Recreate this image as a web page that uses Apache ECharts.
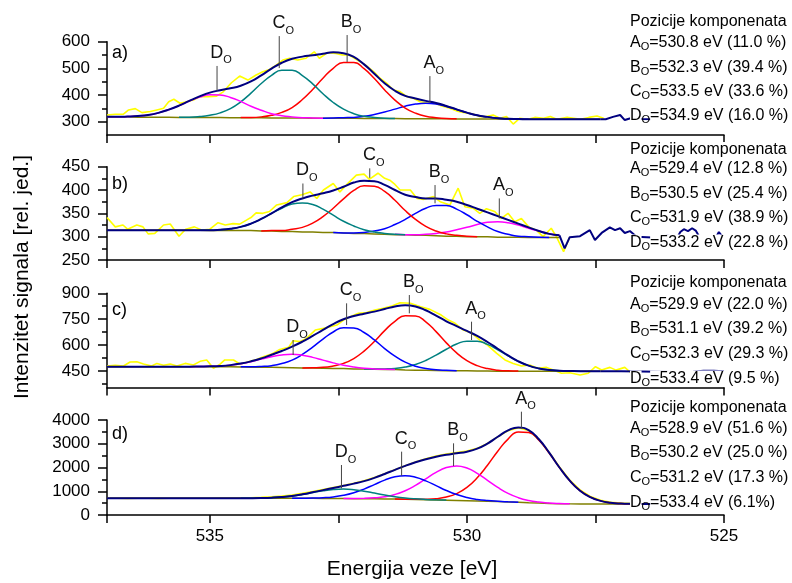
<!DOCTYPE html>
<html><head><meta charset="utf-8">
<script src="https://cdn.jsdelivr.net/npm/echarts@6/dist/echarts.min.js"></script>
<style>html,body{margin:0;padding:0;background:#fff}#c{width:792px;height:583px}</style>
</head><body><div id="c"></div>
<script>
function gap(n){ const r=[]; for(let i=0;i<n;i++) r.push(null); return r; }

// ---------- Panel a ----------
const aE = [537,536.8,536.6,536.4,536.2,536,535.8,535.6,535.4,535.2,535,534.8,534.6,534.4,534.2,534,533.8,533.6,533.4,533.2,533,532.8,532.6,532.4,532.2,532,531.8,531.6,531.4,531.2,531,530.8,530.6,530.4,530.2,530,529.8,529.6,529.4,529.2,529,528.8,528.6,528.4,528.2,528,527.8,527.6,527.4];
const aYellowE = [537.0,536.84,536.68,536.58,536.45,536.32,536.16,536.03,535.9,535.8,535.7,535.58,535.45,535.32,535.19,535.03,534.87,534.74,534.58,534.42,534.26,534.1,533.97,533.84,533.71,533.58,533.45,533.29,533.13,532.97,532.87,532.71,532.55,532.42,532.29,532.13,531.97,531.81,531.69,531.56,531.43,531.3,531.17,531.04,530.91,530.78,530.62,530.49,530.33,530.17,530.04,529.88,529.75,529.62,529.49,529.36,529.23,529.1,528.97,528.81,528.68,528.51,528.38,528.25,528.05,527.92,527.79,527.63,527.47,527.34];
const aYellowV = [325,328,328,344,349,334,338,344,350,375,384,369,375,381,394,394,396,412,446,471,456,475,487,496,512,531,538,531,538,562,538,559,556,550,550,531,512,487,463,444,419,413,394,388,375,371,369,359,350,338,334,329,319,319,325,313,319,291,313,309,316,313,319,309,316,313,309,316,321,313];
const aBg = [318,318,318,317,317,317,317,316,316,316,316,316,315,315,315,315,314,314,314,314,313,313,313,313,313,312,312,312,312,311,311,311,311,311,310,310,310,310,310,309,309,309,309,309,309,309,309,309,309];
const aEnv = [318,318,319,321,325,333,345,360,378,395,409,418,425,435,451,474,499,521,536,544,549,555,560,557,543,515,480,444,416,397,387,378,370,359,346,334,324,318,313,311,310,309,309,309,309,309,309,309,309];
const aCompA = [...gap(21),313,314,315,316,320,327,336,347,358,366,369,366,357,346,334,324,318,313,311,310,309,...gap(7)];
const aCompB = [...gap(13),316,316,318,324,335,353,383,421,463,500,522,522,499,462,419,381,351,332,320,315,312,311,...gap(14)];
const aCompC = [...gap(7),317,317,319,324,333,349,374,407,443,474,493,493,473,442,405,372,347,330,320,316,313,312,...gap(20)];
const aCompD = [318,318,319,321,325,333,345,360,377,392,401,400,391,376,358,343,330,322,318,315,314,313,...gap(27)];
const aTailE = [527.4,527.3,527.16,527.02,526.93,526.85,526.75,526.6,526.3,526.0,525.7,525.4,525.0];
const aTailV = [309,309,318,325,306,311,316,310,309,310,309,310,309];
const aLeadE = [530.72,532.33,533.65,534.86];
const aLeadLo = [374,524,501,415];
const aLeadHi = [471,625,621,509];
const aMajor = [300,400,500,600];
const aMinor = [350,450,550];
const aPos = [530.8,532.3,533.5,534.9];
const aPct = ['11.0 %','39.4 %','33.6 %','16.0 %'];

// ---------- Panel b ----------
const bE = [537,536.8,536.6,536.4,536.2,536,535.8,535.6,535.4,535.2,535,534.8,534.6,534.4,534.2,534,533.8,533.6,533.4,533.2,533,532.8,532.6,532.4,532.2,532,531.8,531.6,531.4,531.2,531,530.8,530.6,530.4,530.2,530,529.8,529.6,529.4,529.2,529,528.8,528.6,528.4,528.2];
const bYellowE = [537.0,536.84,536.69,536.6,536.42,536.3,536.2,536.07,535.9,535.77,535.6,535.47,535.3,535.15,535.0,534.84,534.7,534.55,534.42,534.28,534.2,534.1,533.97,533.84,533.7,533.5,533.37,533.21,533.05,532.92,532.79,532.6,532.47,532.3,532.15,532.0,531.9,531.73,531.6,531.5,531.4,531.3,531.1,530.97,530.84,530.65,530.52,530.33,530.17,530.04,529.88,529.75,529.62,529.46,529.33,529.2,529.07,528.94,528.8,528.65,528.52,528.36,528.26,528.12,528.0];
const bYellowV = [341,321,325,316,325,321,306,307,325,327,301,316,321,314,316,330,325,328,327,336,341,351,350,354,368,373,386,390,396,382,400,414,396,416,432,434,423,436,425,421,412,400,400,382,380,386,375,368,404,364,361,350,360,354,339,350,332,339,321,314,300,318,300,268,299];
const bBg = [314,314,314,314,314,314,314,314,314,314,313,313,313,313,313,312,312,311,311,310,310,309,309,308,307,307,306,305,304,304,303,303,302,301,301,300,300,300,299,299,299,298,298,298,298];
const bEnv = [314,314,314,314,314,314,314,314,314,314,314,315,317,321,328,338,350,363,374,382,388,393,399,407,416,420,419,411,400,390,385,382,382,379,375,368,360,352,344,336,328,320,312,306,303];
const bCompA = [...gap(28),305,304,304,305,307,310,315,320,326,331,332,330,325,318,312,306,303];
const bCompB = [...gap(22),309,308,308,309,312,317,326,337,350,361,367,367,359,347,333,321,311,305,301,300,299,298,...gap(1)];
const bCompC = [...gap(15),312,313,313,316,320,329,343,361,381,399,409,408,397,378,356,337,322,312,306,303,301,300,...gap(8)];
const bCompD = [...gap(9),314,314,315,317,321,328,338,350,361,370,372,369,359,346,333,323,315,310,307,305,304,...gap(15)];
const bTailE = [528.2,528.1,528.0,527.8,527.61,527.51,527.38,527.22,527.12,527.02,526.93,526.83,526.7,526.4,526.1,525.9,525.85,525.78,525.7,525.62,525.55,525.48,525.3,525.15,525.1,525.05,525.0];
const bTailV = [303,275,299,301,314,293,308,320,314,318,308,312,300,298,302,300,310,316,312,318,313,300,298,300,310,303,300];
const bLeadE = [529.37,530.62,531.89,533.19];
const bLeadLo = [339,371.5,426,382];
const bLeadHi = [382,410.7,446.5,414];
const bMajor = [250,300,350,400,450];
const bMinor = [275,325,375,425];
const bPos = [529.4,530.5,531.9,533.2];
const bPct = ['12.8 %','25.4 %','38.9 %','22.8 %'];

// ---------- Panel c ----------
const cE = [537,536.8,536.6,536.4,536.2,536,535.8,535.6,535.4,535.2,535,534.8,534.6,534.4,534.2,534,533.8,533.6,533.4,533.2,533,532.8,532.6,532.4,532.2,532,531.8,531.6,531.4,531.2,531,530.8,530.6,530.4,530.2,530,529.8,529.6,529.4,529.2,529,528.8,528.6,528.4,528.2,528,527.8,527.6,527.4];
const cYellowE = [537.0,536.84,536.68,536.55,536.42,536.29,536.13,536.03,535.9,535.77,535.64,535.48,535.32,535.19,535.06,534.93,534.8,534.71,534.54,534.41,534.25,534.09,533.96,533.8,533.64,533.47,533.38,533.25,533.12,532.95,532.79,532.66,532.53,532.4,532.27,532.11,531.95,531.79,531.63,531.46,531.3,531.1,530.9,530.72,530.5,530.36,530.23,530.07,529.9,529.75,529.6,529.42,529.26,529.1,528.94,528.78,528.62,528.45,528.32,528.16,528.0,527.8,527.64,527.5,527.38,527.22,527.1,526.93,526.8];
const cYellowV = [479,483,479,502,503,490,479,494,483,490,479,494,485,506,514,466,490,514,514,490,503,517,533,548,575,587,625,620,639,687,697,706,716,745,764,784,788,803,813,826,845,842,822,807,774,745,726,687,668,629,600,552,514,494,479,485,466,471,456,437,440,427,437,475,456,471,455,471,437];
const cBg = [475,475,475,475,475,475,475,475,475,475,474,474,474,473,472,472,471,470,469,468,467,466,465,464,462,461,460,459,458,456,455,454,453,452,451,451,450,450,449,449,449,449,449,449,449,449,449,449,449];
const cEnv = [475,475,475,475,475,475,475,475,475,476,477,479,484,493,506,523,544,566,591,620,653,688,722,750,769,782,794,809,824,831,824,802,771,738,710,682,653,618,579,540,506,481,465,456,452,450,449,449,449];
const cCompA = [...gap(25),462,461,462,465,473,488,511,542,576,606,623,623,604,573,538,506,481,465,456,452,450,449,...gap(2)];
const cCompB = [...gap(19),468,469,471,479,494,522,565,621,684,738,770,769,735,678,613,555,510,481,464,455,451,450,...gap(8)];
const cCompC = [...gap(13),474,474,476,481,493,513,546,588,635,676,700,699,673,630,580,536,501,478,465,457,454,452,...gap(14)];
const cCompD = [...gap(8),475,476,477,479,484,492,504,519,533,543,547,541,529,513,497,483,473,466,462,460,458,...gap(20)];
const cTailE = [527.4,527.0,526.6,526.3,526.0,525.6,525.4,525.2,525.0];
const cTailV = [449,448,447,446,444,446,452,452,448];
const cLeadE = [529.91,531.12,532.34,533.38];
const cLeadLo = [629.5,784,716,542.6];
const cLeadHi = [735.5,890,842,629.5];
const cMajor = [450,600,750,900];
const cMinor = [375,525,675,825];
const cPos = [529.9,531.1,532.3,533.4];
const cPct = ['22.0 %','39.2 %','29.3 %','9.5 %'];

// ---------- Panel d ----------
const dE = [537,536.8,536.6,536.4,536.2,536,535.8,535.6,535.4,535.2,535,534.8,534.6,534.4,534.2,534,533.8,533.6,533.4,533.2,533,532.8,532.6,532.4,532.2,532,531.8,531.6,531.4,531.2,531,530.8,530.6,530.4,530.2,530,529.8,529.6,529.4,529.2,529,528.8,528.6,528.4,528.2,528,527.8,527.6,527.4,527.2,527,526.8,526.6];
const dYellow = [703,705,702,704,703,701,704,706,703,705,708,710,712,718,726,742,765,800,845,910,990,1075,1160,1245,1335,1440,1575,1735,1905,2075,2230,2365,2478,2565,2630,2690,2805,3010,3290,3550,3675,3560,3185,2630,2020,1475,1055,780,620,540,500,485,478];
const dBg = [703,703,703,703,703,703,703,703,703,703,703,703,703,703,703,703,703,703,702,702,701,699,695,693,689,684,680,675,669,662,654,645,635,625,615,604,592,580,566,550,533,516,501,487,477,470,466,464,463,463,463,463,463];
const dEnv = [703,703,703,703,703,703,703,703,703,703,703,703,703,705,707,714,729,757,803,870,955,1048,1138,1228,1320,1427,1565,1728,1901,2069,2219,2350,2456,2537,2599,2667,2794,3007,3294,3561,3688,3569,3189,2624,2001,1447,1024,751,595,517,483,470,465];
const dCompA = [...gap(28),670,664,661,665,689,757,902,1162,1567,2098,2687,3196,3491,3474,3147,2608,1995,1445,1024,751,595,517,483,470,465];
const dCompB = [...gap(23),695,695,700,722,770,865,1023,1250,1525,1797,1997,2065,1976,1754,1460,1162,911,729,611,543,503,483,472,...gap(7)];
const dCompC = [...gap(18),703,706,712,727,760,827,936,1091,1281,1468,1606,1652,1591,1438,1236,1032,862,738,657,608,577,554,534,...gap(12)];
const dCompD = [...gap(13),705,707,714,729,757,802,866,944,1019,1073,1093,1067,1004,923,839,769,716,680,656,639,627,...gap(19)];
const dTailE = [526.6,526.3,525.0];
const dTailV = [465,463,463];
const dLeadE = [528.94,530.26,531.27,532.44];
const dLeadLo = [3649,2063,1656,1123];
const dLeadHi = [4350,3018,2667,2105];
const dMajor = [0,1000,2000,3000,4000];
const dMinor = [500,1500,2500,3500];
const dPos = [528.9,530.2,531.2,533.4];
const dPct = ['51.6 %','25.0 %','17.3 %','6.1%'];

const xTickLabels = [525,530,535];
const compLetters = ['A','B','C','D'];
const headerText = 'Pozicije komponenata';
const panelTags = ['a)','b)','c)','d)'];
const xTitle = 'Energija veze [eV]';
const yTitle = 'Intenzitet signala [rel. jed.]';

// ---------- build ----------
const FONT = '"Liberation Sans", Arial, Helvetica, sans-serif';
function pairs(xs, ys){ const out=[]; for(let i=0;i<xs.length;i++){ if(ys[i]!==null && ys[i]!==undefined) out.push([xs[i], ys[i]]); } return out; }

const panels = [
  {E:aE, yE:aYellowE, yV:aYellowV, bg:aBg, env:aEnv, comps:[aCompA,aCompB,aCompC,aCompD], tE:aTailE, tV:aTailV, lE:aLeadE, lLo:aLeadLo, lHi:aLeadHi, ymin:250, ymax:600, major:aMajor, minor:aMinor, pos:aPos, pct:aPct},
  {E:bE, yE:bYellowE, yV:bYellowV, bg:bBg, env:bEnv, comps:[bCompA,bCompB,bCompC,bCompD], tE:bTailE, tV:bTailV, lE:bLeadE, lLo:bLeadLo, lHi:bLeadHi, ymin:250, ymax:450, major:bMajor, minor:bMinor, pos:bPos, pct:bPct},
  {E:cE, yE:cYellowE, yV:cYellowV, bg:cBg, env:cEnv, comps:[cCompA,cCompB,cCompC,cCompD], tE:cTailE, tV:cTailV, lE:cLeadE, lLo:cLeadLo, lHi:cLeadHi, ymin:355, ymax:900, major:cMajor, minor:cMinor, pos:cPos, pct:cPct},
  {E:dE, yE:dE, yV:dYellow, bg:dBg, env:dEnv, comps:[dCompA,dCompB,dCompC,dCompD], tE:dTailE, tV:dTailV, lE:dLeadE, lLo:dLeadLo, lHi:dLeadHi, ymin:0, ymax:4000, major:dMajor, minor:dMinor, pos:dPos, pct:dPct}
];
const compColors = [
  ['#0000FF','#FF0000','#008080','#FF00FF'],
  ['#FF00FF','#0000FF','#FF0000','#008080'],
  ['#008080','#FF0000','#0000FF','#FF00FF'],
  ['#FF0000','#FF00FF','#0000FF','#008080']
];
const layout = [
  {top:41.7, height:93.3, tagY:53, textY:[22,42.5,67.5,91.5,116]},
  {top:166.7, height:93.3, tagY:184, textY:[150,169,194,218,242.5]},
  {top:293.3, height:94.1, tagY:310, textY:[283,305,329,354,378.5]},
  {top:420, height:95, tagY:434.5, textY:[407.5,429,453,478,503]}
];
const AX = {color:'#000', width:1.5};
const peakRich = {
  m:{fontSize:18, fontFamily:FONT, color:'#111', verticalAlign:'top'},
  s:{fontSize:11, fontFamily:FONT, color:'#111', verticalAlign:'top', padding:[11,0,0,0]}
};
const rowRich = {
  m:{fontSize:16, fontFamily:FONT, fill:'#000', verticalAlign:'top', backgroundColor:'#fff'},
  s:{fontSize:11, fontFamily:FONT, fill:'#000', verticalAlign:'top', padding:[6.5,0,0,0]}
};

const grid=[], xAxis=[], yAxis=[], series=[], graphic=[];
panels.forEach((p,k)=>{
  const L = layout[k];
  grid.push({left:107, right:68, top:L.top, height:L.height});
  xAxis.push({type:'value', gridIndex:k, min:525, max:537, inverse:true, interval:2.5,
    axisLine:{show:true, onZero:false, lineStyle:AX},
    axisTick:{show:true, inside:false, length:8, lineStyle:AX},
    axisLabel: k===3 ? {show:true, customValues:xTickLabels, fontSize:17, color:'#000', margin:13, fontFamily:FONT, formatter:v=>String(v)} : {show:false},
    splitLine:{show:false}});
  yAxis.push({type:'value', gridIndex:k, position:'left', min:p.ymin, max:p.ymax,
    axisLine:{show:true, onZero:false, lineStyle:AX},
    axisTick:{show:true, inside:false, length:9, customValues:p.major, lineStyle:AX},
    axisLabel:{show:true, customValues:p.major, fontSize:17, color:'#000', margin:17, fontFamily:FONT, formatter:v=>String(v)},
    splitLine:{show:false}});
  yAxis.push({type:'value', gridIndex:k, position:'left', min:p.ymin, max:p.ymax,
    axisLine:{show:false},
    axisTick:{show:true, inside:false, length:5, customValues:p.minor, lineStyle:AX},
    axisLabel:{show:false}, splitLine:{show:false}});
  const yi = 2*k;
  series.push({type:'line', xAxisIndex:k, yAxisIndex:yi, data:pairs(p.yE,p.yV), symbol:'none', lineStyle:{color:'#FFFF00', width:1.6}, z:2, silent:true});
  series.push({type:'line', xAxisIndex:k, yAxisIndex:yi, data:pairs(p.E,p.bg), symbol:'none', lineStyle:{color:'#808000', width:1.5}, z:3, silent:true});
  p.comps.forEach((c,j)=>{
    series.push({type:'line', xAxisIndex:k, yAxisIndex:yi, data:pairs(p.E,c), smooth:true, symbol:'none', lineStyle:{color:compColors[k][j], width:1.5}, z:3, silent:true});
  });
  series.push({type:'line', xAxisIndex:k, yAxisIndex:yi, data:pairs(p.E,p.env), smooth:true, symbol:'none', lineStyle:{color:'#000080', width:2}, z:4, silent:true});
  series.push({type:'line', xAxisIndex:k, yAxisIndex:yi, data:pairs(p.tE,p.tV), symbol:'none', lineStyle:{color:'#000080', width:2}, z:4, silent:true});
  p.lE.forEach((e,j)=>{
    series.push({type:'line', xAxisIndex:k, yAxisIndex:yi, clip:false, silent:true, z:6,
      symbol:'circle', symbolSize:0, showSymbol:true,
      lineStyle:{color:'#444', width:1},
      data:[[e,p.lLo[j]], {value:[e,p.lHi[j]], label:{show:true, position:'top', distance:0, offset:[4,0],
        formatter:'{m|'+compLetters[j]+'}{s|O}', rich:peakRich}}]});
  });
  graphic.push({type:'text', x:112, y:L.tagY, z:100, style:{text:panelTags[k], font:'18px '+FONT, fill:'#000', verticalAlign:'middle', align:'left'}});
  graphic.push({type:'text', x:630, y:L.textY[0]-8, z:100, style:{text:headerText, font:'16px '+FONT, fill:'#000', verticalAlign:'top', align:'left', backgroundColor:'#fff'}});
  for(let j=0;j<4;j++){
    const txt = '{m|'+compLetters[j]+'}{s|O}{m|='+p.pos[j].toFixed(1)+' eV ('+p.pct[j]+')}';
    graphic.push({type:'text', x:630, y:L.textY[j+1]-8, z:100, style:{text:txt, verticalAlign:'top', align:'left', rich:rowRich}});
  }
});
graphic.push({type:'text', x:412, y:569, z:100, style:{text:xTitle, font:'21px '+FONT, fill:'#000', align:'center', verticalAlign:'middle'}});
graphic.push({type:'text', x:22, y:277, rotation:Math.PI/2, z:100, style:{text:yTitle, font:'21px '+FONT, fill:'#000', align:'center', verticalAlign:'middle'}});

const chart = echarts.init(document.getElementById('c'), null, {renderer:'canvas'});
chart.setOption({animation:false, backgroundColor:'#fff', grid, xAxis, yAxis, series, graphic});
</script>
</body></html>
